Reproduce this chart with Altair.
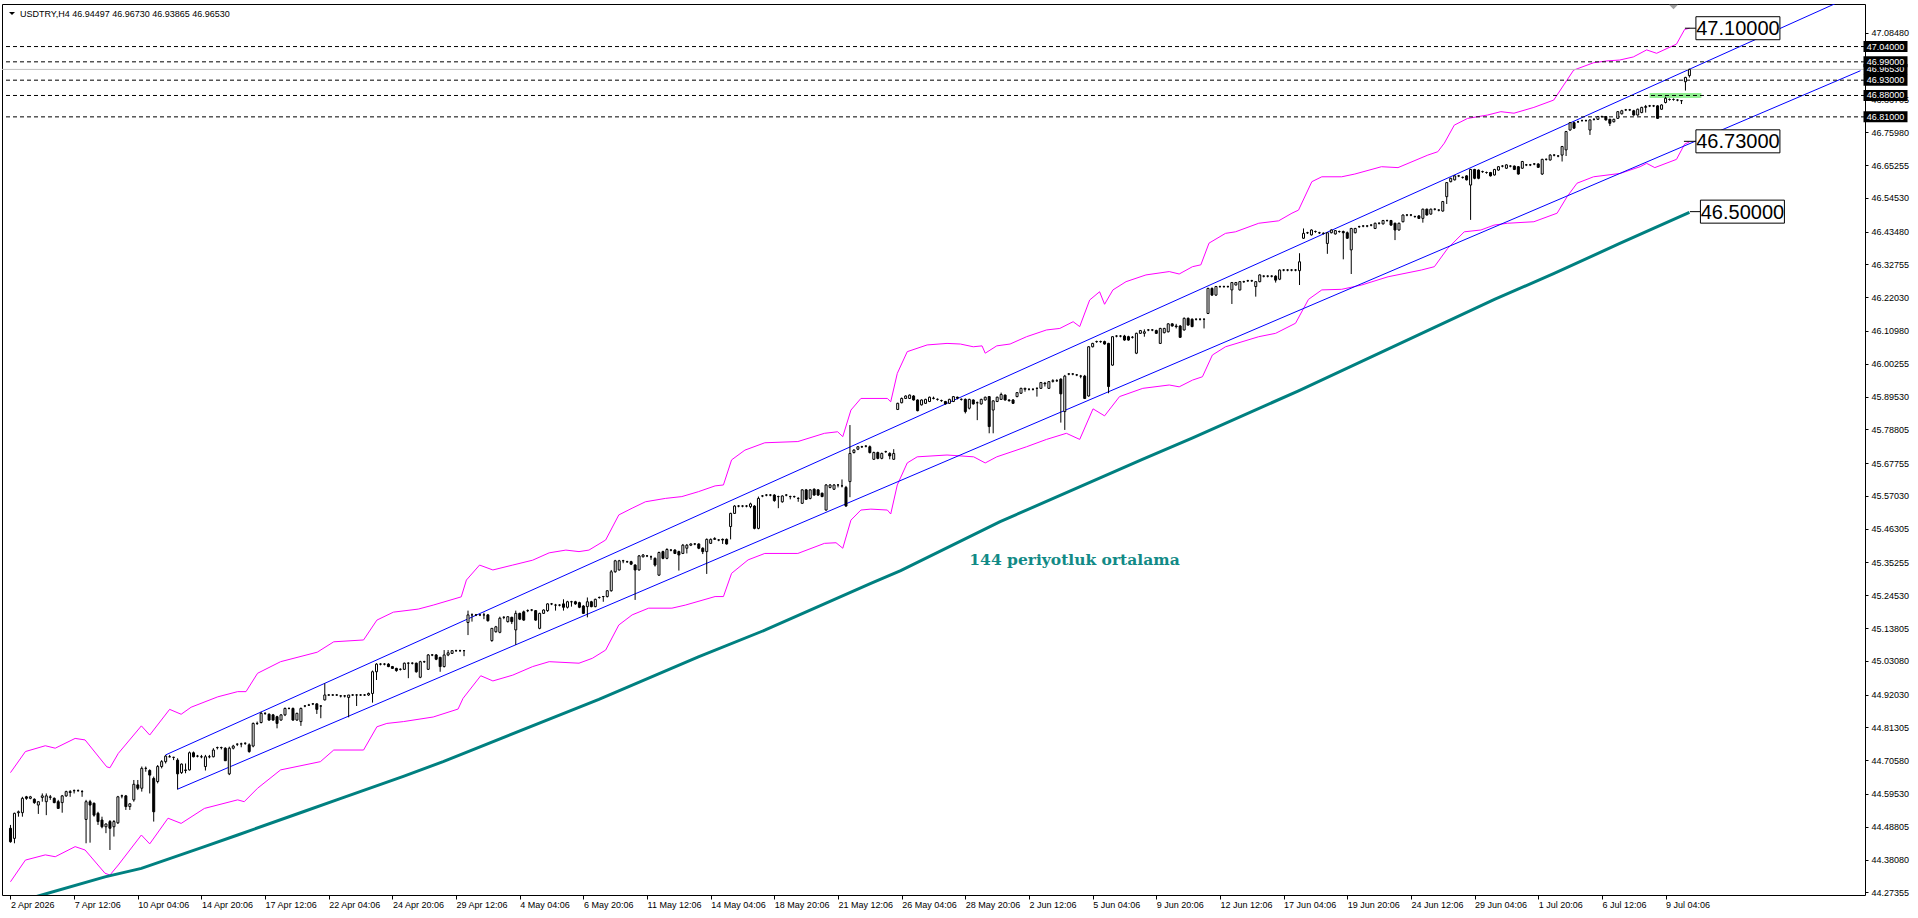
import altair as alt
import pandas as pd

# ---------------- data ----------------
title_text = "USDTRY,H4  46.94497 46.96730 46.93865 46.96530"

open_ = [
    44.483, 44.450, 44.534, 44.534, 44.586, 44.581, 44.578, 44.559, 44.584, 44.570,
    44.584, 44.581, 44.570, 44.567, 44.589, 44.600, 44.606, 44.606, 44.603, 44.512,
    44.570, 44.565, 44.532, 44.510, 44.488, 44.505, 44.488, 44.501, 44.589, 44.589,
    44.554, 44.576, 44.625, 44.614, 44.679, 44.672, 44.646, 44.636, 44.685, 44.701,
    44.717, 44.715, 44.706, 44.665, 44.672, 44.674, 44.730, 44.719, 44.717, 44.685,
    44.717, 44.717, 44.747, 44.747, 44.745, 44.661, 44.745, 44.758, 44.759, 44.761,
    44.756, 44.752, 44.826, 44.829, 44.859, 44.856, 44.854, 44.848, 44.837, 44.854,
    44.875, 44.875, 44.837, 44.832, 44.883, 44.886, 44.890, 44.890, 44.883, 44.903,
    44.919, 44.919, 44.919, 44.916, 44.916, 44.911, 44.919, 44.919, 44.919, 44.919,
    44.919, 44.924, 44.995, 45.020, 45.020, 45.020, 45.012, 45.006, 45.003, 45.003,
    45.023, 45.023, 45.023, 44.977, 45.028, 45.003, 45.050, 45.050, 45.042, 45.012,
    45.050, 45.055, 45.064, 45.064, 45.064, 45.156, 45.181, 45.181, 45.181, 45.181,
    45.181, 45.097, 45.126, 45.124, 45.173, 45.159, 45.173, 45.132, 45.186, 45.191,
    45.195, 45.197, 45.195, 45.137, 45.186, 45.195, 45.217, 45.213, 45.213, 45.217,
    45.206, 45.224, 45.224, 45.221, 45.210, 45.208, 45.224, 45.208, 45.238, 45.241,
    45.241, 45.260, 45.322, 45.328, 45.358, 45.355, 45.355, 45.344, 45.328, 45.371,
    45.374, 45.371, 45.366, 45.311, 45.388, 45.366, 45.393, 45.393, 45.388, 45.382,
    45.399, 45.409, 45.413, 45.413, 45.399, 45.388, 45.415, 45.428, 45.426, 45.428,
    45.428, 45.470, 45.513, 45.537, 45.537, 45.537, 45.535, 45.537, 45.464, 45.570,
    45.573, 45.573, 45.573, 45.568, 45.551, 45.573, 45.568, 45.568, 45.562, 45.546,
    45.590, 45.562, 45.592, 45.590, 45.579, 45.524, 45.598, 45.592, 45.606, 45.603,
    45.598, 45.617, 45.712, 45.723, 45.731, 45.733, 45.731, 45.690, 45.712, 45.693,
    45.715, 45.709, 45.690, 45.853, 45.875, 45.889, 45.889, 45.897, 45.884, 45.868,
    45.873, 45.879, 45.889, 45.886, 45.882, 45.879, 45.873, 45.879, 45.893, 45.886,
    45.886, 45.857, 45.884, 45.875, 45.871, 45.884, 45.895, 45.851, 45.879, 45.886,
    45.900, 45.884, 45.884, 45.895, 45.906, 45.919, 45.919, 45.919, 45.922, 45.922,
    45.939, 45.922, 45.945, 45.947, 45.952, 45.846, 45.969, 45.969, 45.966, 45.962,
    45.962, 45.897, 46.058, 46.075, 46.075, 46.075, 46.069, 45.998, 46.093, 46.093,
    46.093, 46.091, 46.089, 46.037, 46.102, 46.102, 46.113, 46.113, 46.111, 46.069,
    46.104, 46.107, 46.133, 46.126, 46.126, 46.113, 46.151, 46.148, 46.148, 46.148,
    46.148, 46.167, 46.249, 46.227, 46.255, 46.255, 46.255, 46.244, 46.260, 46.244,
    46.271, 46.274, 46.274, 46.255, 46.271, 46.289, 46.289, 46.289, 46.289, 46.279,
    46.309, 46.309, 46.309, 46.309, 46.307, 46.413, 46.431, 46.424, 46.435, 46.431,
    46.429, 46.396, 46.431, 46.427, 46.435, 46.435, 46.431, 46.375, 46.431, 46.451,
    46.453, 46.453, 46.456, 46.445, 46.462, 46.460, 46.471, 46.471, 46.462, 46.440,
    46.467, 46.489, 46.489, 46.484, 46.486, 46.478, 46.508, 46.492, 46.508, 46.505,
    46.502, 46.549, 46.598, 46.604, 46.617, 46.612, 46.617, 46.587, 46.638, 46.636,
    46.631, 46.628, 46.628, 46.620, 46.636, 46.649, 46.642, 46.649, 46.649, 46.647,
    46.642, 46.653, 46.653, 46.656, 46.656, 46.623, 46.671, 46.669, 46.685, 46.682,
    46.685, 46.702, 46.767, 46.791, 46.794, 46.798, 46.798, 46.767, 46.802, 46.802,
    46.811, 46.811, 46.802, 46.794, 46.805, 46.820, 46.833, 46.833, 46.830, 46.816,
    46.824, 46.841, 46.846, 46.846, 46.846, 46.835, 46.857, 46.867, 46.867, 46.865,
    46.863, 46.925, 46.94497,
]

high_ = [
    44.494, 44.534, 44.541, 44.586, 44.589, 44.589, 44.581, 44.570, 44.597, 44.597,
    44.592, 44.584, 44.576, 44.592, 44.606, 44.608, 44.610, 44.610, 44.608, 44.576,
    44.576, 44.567, 44.537, 44.521, 44.499, 44.510, 44.510, 44.589, 44.593, 44.592,
    44.565, 44.641, 44.641, 44.685, 44.685, 44.676, 44.652, 44.690, 44.706, 44.723,
    44.723, 44.717, 44.712, 44.695, 44.695, 44.734, 44.734, 44.723, 44.723, 44.723,
    44.723, 44.745, 44.750, 44.750, 44.748, 44.750, 44.756, 44.761, 44.763, 44.764,
    44.761, 44.829, 44.832, 44.864, 44.862, 44.859, 44.857, 44.851, 44.856, 44.878,
    44.878, 44.878, 44.861, 44.878, 44.886, 44.890, 44.892, 44.892, 44.886, 44.957,
    44.922, 44.922, 44.922, 44.919, 44.919, 44.919, 44.922, 44.922, 44.922, 44.922,
    44.927, 44.999, 45.023, 45.023, 45.023, 45.023, 45.014, 45.008, 45.006, 45.025,
    45.026, 45.026, 45.025, 45.031, 45.031, 45.053, 45.053, 45.053, 45.044, 45.066,
    45.066, 45.066, 45.067, 45.067, 45.066, 45.195, 45.186, 45.184, 45.184, 45.188,
    45.184, 45.137, 45.145, 45.175, 45.177, 45.177, 45.175, 45.195, 45.188, 45.195,
    45.199, 45.200, 45.197, 45.188, 45.199, 45.219, 45.220, 45.217, 45.216, 45.232,
    45.227, 45.227, 45.227, 45.224, 45.213, 45.238, 45.227, 45.234, 45.241, 45.243,
    45.262, 45.328, 45.361, 45.361, 45.361, 45.358, 45.358, 45.347, 45.377, 45.380,
    45.377, 45.375, 45.369, 45.388, 45.391, 45.399, 45.396, 45.396, 45.391, 45.413,
    45.413, 45.415, 45.416, 45.415, 45.402, 45.431, 45.431, 45.435, 45.429, 45.431,
    45.431, 45.515, 45.540, 45.540, 45.540, 45.540, 45.548, 45.540, 45.568, 45.573,
    45.576, 45.576, 45.576, 45.571, 45.572, 45.576, 45.571, 45.571, 45.566, 45.592,
    45.593, 45.592, 45.595, 45.592, 45.581, 45.609, 45.609, 45.609, 45.609, 45.624,
    45.603, 45.802, 45.723, 45.733, 45.734, 45.736, 45.735, 45.715, 45.715, 45.712,
    45.718, 45.713, 45.723, 45.875, 45.892, 45.899, 45.902, 45.900, 45.886, 45.886,
    45.888, 45.895, 45.895, 45.889, 45.885, 45.881, 45.888, 45.897, 45.895, 45.889,
    45.889, 45.888, 45.886, 45.879, 45.888, 45.895, 45.897, 45.883, 45.895, 45.908,
    45.902, 45.886, 45.887, 45.910, 45.924, 45.924, 45.922, 45.922, 45.925, 45.943,
    45.943, 45.946, 45.952, 45.952, 45.955, 45.966, 45.972, 45.972, 45.969, 45.966,
    45.966, 46.060, 46.071, 46.078, 46.078, 46.078, 46.071, 46.093, 46.096, 46.096,
    46.097, 46.094, 46.093, 46.104, 46.113, 46.115, 46.116, 46.116, 46.114, 46.120,
    46.120, 46.135, 46.135, 46.133, 46.129, 46.154, 46.154, 46.151, 46.151, 46.151,
    46.151, 46.251, 46.252, 46.257, 46.258, 46.258, 46.258, 46.270, 46.270, 46.273,
    46.274, 46.277, 46.277, 46.273, 46.295, 46.292, 46.292, 46.292, 46.292, 46.311,
    46.312, 46.312, 46.312, 46.312, 46.364, 46.445, 46.434, 46.442, 46.438, 46.434,
    46.432, 46.433, 46.442, 46.440, 46.438, 46.438, 46.435, 46.447, 46.447, 46.454,
    46.456, 46.456, 46.459, 46.464, 46.465, 46.473, 46.474, 46.473, 46.464, 46.464,
    46.491, 46.492, 46.492, 46.487, 46.489, 46.510, 46.510, 46.510, 46.511, 46.508,
    46.535, 46.597, 46.611, 46.619, 46.620, 46.615, 46.619, 46.640, 46.640, 46.638,
    46.634, 46.631, 46.630, 46.640, 46.649, 46.652, 46.655, 46.652, 46.651, 46.649,
    46.666, 46.656, 46.656, 46.659, 46.658, 46.673, 46.674, 46.688, 46.688, 46.685,
    46.715, 46.764, 46.793, 46.794, 46.797, 46.801, 46.801, 46.802, 46.805, 46.813,
    46.814, 46.813, 46.804, 46.804, 46.829, 46.833, 46.836, 46.836, 46.833, 46.837,
    46.843, 46.849, 46.849, 46.849, 46.848, 46.851, 46.876, 46.870, 46.870, 46.868,
    46.865, 46.941, 46.96730,
]

low_ = [
    44.436, 44.434, 44.521, 44.521, 44.576, 44.578, 44.563, 44.530, 44.570, 44.526,
    44.576, 44.565, 44.547, 44.534, 44.586, 44.586, 44.597, 44.603, 44.586, 44.434,
    44.436, 44.521, 44.494, 44.483, 44.467, 44.412, 44.456, 44.497, 44.581, 44.543,
    44.543, 44.570, 44.608, 44.603, 44.668, 44.597, 44.505, 44.630, 44.679, 44.695,
    44.715, 44.706, 44.610, 44.661, 44.663, 44.672, 44.715, 44.715, 44.712, 44.672,
    44.712, 44.715, 44.741, 44.741, 44.704, 44.657, 44.741, 44.752, 44.748, 44.756,
    44.730, 44.748, 44.821, 44.826, 44.854, 44.835, 44.835, 44.810, 44.835, 44.850,
    44.872, 44.835, 44.835, 44.818, 44.879, 44.883, 44.886, 44.857, 44.843, 44.901,
    44.916, 44.916, 44.916, 44.911, 44.911, 44.846, 44.916, 44.883, 44.916, 44.916,
    44.916, 44.894, 44.968, 45.016, 45.016, 45.010, 45.004, 44.995, 44.999, 45.001,
    44.974, 45.019, 44.992, 44.974, 45.024, 45.001, 45.046, 45.033, 44.995, 45.009,
    45.046, 45.053, 45.060, 45.060, 45.046, 45.115, 45.159, 45.177, 45.177, 45.167,
    45.159, 45.093, 45.123, 45.121, 45.167, 45.156, 45.151, 45.083, 45.164, 45.162,
    45.190, 45.193, 45.162, 45.134, 45.184, 45.191, 45.213, 45.195, 45.209, 45.195,
    45.202, 45.208, 45.214, 45.203, 45.184, 45.173, 45.206, 45.206, 45.234, 45.224,
    45.238, 45.257, 45.319, 45.326, 45.350, 45.351, 45.344, 45.230, 45.326, 45.369,
    45.370, 45.361, 45.339, 45.309, 45.363, 45.363, 45.389, 45.380, 45.326, 45.380,
    45.382, 45.406, 45.409, 45.396, 45.380, 45.315, 45.413, 45.426, 45.422, 45.413,
    45.411, 45.428, 45.511, 45.533, 45.533, 45.533, 45.530, 45.461, 45.461, 45.566,
    45.569, 45.569, 45.551, 45.530, 45.548, 45.569, 45.559, 45.564, 45.551, 45.544,
    45.557, 45.559, 45.571, 45.570, 45.566, 45.522, 45.595, 45.590, 45.598, 45.598,
    45.535, 45.566, 45.709, 45.720, 45.727, 45.729, 45.709, 45.688, 45.690, 45.690,
    45.711, 45.690, 45.688, 45.851, 45.873, 45.887, 45.887, 45.882, 45.847, 45.866,
    45.871, 45.877, 45.886, 45.882, 45.878, 45.869, 45.871, 45.877, 45.886, 45.882,
    45.840, 45.853, 45.869, 45.818, 45.869, 45.882, 45.775, 45.775, 45.877, 45.884,
    45.882, 45.878, 45.871, 45.893, 45.904, 45.911, 45.915, 45.915, 45.895, 45.920,
    45.928, 45.920, 45.941, 45.943, 45.810, 45.786, 45.965, 45.965, 45.962, 45.955,
    45.887, 45.895, 46.056, 46.071, 46.071, 46.065, 45.906, 45.996, 46.089, 46.089,
    46.078, 46.078, 46.085, 46.034, 46.100, 46.091, 46.109, 46.109, 46.100, 46.067,
    46.102, 46.105, 46.124, 46.118, 46.087, 46.111, 46.127, 46.122, 46.144, 46.144,
    46.118, 46.165, 46.225, 46.225, 46.251, 46.251, 46.251, 46.198, 46.259, 46.242,
    46.267, 46.270, 46.270, 46.222, 46.269, 46.285, 46.285, 46.285, 46.268, 46.276,
    46.305, 46.305, 46.305, 46.305, 46.260, 46.411, 46.427, 46.422, 46.431, 46.427,
    46.425, 46.362, 46.429, 46.425, 46.431, 46.344, 46.411, 46.296, 46.429, 46.447,
    46.449, 46.449, 46.452, 46.443, 46.458, 46.458, 46.467, 46.454, 46.407, 46.438,
    46.465, 46.485, 46.485, 46.480, 46.476, 46.464, 46.487, 46.490, 46.504, 46.501,
    46.500, 46.525, 46.596, 46.602, 46.613, 46.608, 46.602, 46.473, 46.606, 46.606,
    46.627, 46.624, 46.615, 46.618, 46.634, 46.645, 46.640, 46.645, 46.636, 46.621,
    46.640, 46.649, 46.649, 46.652, 46.643, 46.620, 46.667, 46.667, 46.681, 46.678,
    46.664, 46.682, 46.765, 46.771, 46.790, 46.794, 46.794, 46.751, 46.798, 46.800,
    46.807, 46.798, 46.780, 46.792, 46.803, 46.818, 46.829, 46.829, 46.814, 46.814,
    46.822, 46.824, 46.842, 46.842, 46.803, 46.833, 46.854, 46.863, 46.863, 46.861,
    46.852, 46.896, 46.93865,
]

close_ = [
    44.439, 44.532, 44.537, 44.581, 44.581, 44.586, 44.567, 44.570, 44.589, 44.589,
    44.586, 44.567, 44.548, 44.589, 44.603, 44.603, 44.606, 44.606, 44.603, 44.570,
    44.559, 44.526, 44.505, 44.488, 44.497, 44.483, 44.505, 44.586, 44.589, 44.554,
    44.563, 44.627, 44.614, 44.679, 44.679, 44.657, 44.537, 44.685, 44.701, 44.719,
    44.717, 44.715, 44.661, 44.693, 44.674, 44.730, 44.717, 44.719, 44.717, 44.717,
    44.717, 44.739, 44.747, 44.747, 44.704, 44.745, 44.752, 44.758, 44.759, 44.761,
    44.734, 44.826, 44.826, 44.859, 44.859, 44.837, 44.837, 44.826, 44.854, 44.875,
    44.875, 44.837, 44.859, 44.875, 44.883, 44.886, 44.890, 44.872, 44.883, 44.919,
    44.919, 44.919, 44.919, 44.916, 44.916, 44.919, 44.919, 44.919, 44.919, 44.919,
    44.924, 44.995, 45.020, 45.020, 45.020, 45.012, 45.006, 44.999, 45.003, 45.023,
    45.023, 45.023, 44.995, 45.028, 45.028, 45.050, 45.050, 45.036, 45.012, 45.050,
    45.057, 45.064, 45.064, 45.064, 45.064, 45.181, 45.181, 45.181, 45.181, 45.181,
    45.162, 45.137, 45.142, 45.170, 45.173, 45.175, 45.159, 45.186, 45.167, 45.164,
    45.195, 45.197, 45.164, 45.186, 45.197, 45.217, 45.217, 45.213, 45.213, 45.206,
    45.224, 45.224, 45.217, 45.206, 45.186, 45.224, 45.208, 45.232, 45.238, 45.241,
    45.260, 45.322, 45.358, 45.358, 45.358, 45.355, 45.347, 45.328, 45.374, 45.377,
    45.374, 45.371, 45.344, 45.385, 45.366, 45.395, 45.393, 45.382, 45.377, 45.409,
    45.409, 45.413, 45.413, 45.399, 45.388, 45.428, 45.428, 45.431, 45.426, 45.426,
    45.413, 45.513, 45.537, 45.537, 45.537, 45.537, 45.544, 45.464, 45.562, 45.570,
    45.573, 45.573, 45.555, 45.568, 45.570, 45.573, 45.568, 45.568, 45.562, 45.590,
    45.559, 45.590, 45.573, 45.573, 45.568, 45.606, 45.606, 45.606, 45.606, 45.603,
    45.537, 45.709, 45.720, 45.731, 45.731, 45.733, 45.712, 45.712, 45.693, 45.709,
    45.715, 45.701, 45.709, 45.873, 45.889, 45.897, 45.900, 45.884, 45.849, 45.884,
    45.886, 45.893, 45.890, 45.886, 45.882, 45.871, 45.886, 45.895, 45.890, 45.886,
    45.846, 45.886, 45.871, 45.875, 45.886, 45.893, 45.797, 45.881, 45.893, 45.902,
    45.884, 45.882, 45.873, 45.908, 45.922, 45.922, 45.919, 45.919, 45.922, 45.941,
    45.937, 45.944, 45.947, 45.947, 45.904, 45.962, 45.969, 45.969, 45.966, 45.962,
    45.889, 46.058, 46.069, 46.075, 46.075, 46.067, 45.928, 46.091, 46.093, 46.093,
    46.080, 46.080, 46.089, 46.102, 46.111, 46.107, 46.113, 46.113, 46.102, 46.118,
    46.118, 46.133, 46.126, 46.124, 46.089, 46.151, 46.129, 46.124, 46.148, 46.148,
    46.148, 46.249, 46.227, 46.255, 46.255, 46.255, 46.255, 46.268, 46.268, 46.271,
    46.271, 46.274, 46.274, 46.271, 46.293, 46.289, 46.289, 46.289, 46.276, 46.309,
    46.309, 46.309, 46.309, 46.309, 46.336, 46.429, 46.431, 46.440, 46.435, 46.431,
    46.429, 46.431, 46.440, 46.438, 46.435, 46.431, 46.413, 46.445, 46.445, 46.451,
    46.453, 46.453, 46.456, 46.462, 46.462, 46.471, 46.471, 46.456, 46.440, 46.462,
    46.489, 46.489, 46.489, 46.484, 46.478, 46.508, 46.489, 46.508, 46.508, 46.505,
    46.533, 46.595, 46.609, 46.617, 46.617, 46.612, 46.604, 46.638, 46.609, 46.609,
    46.631, 46.628, 46.617, 46.638, 46.647, 46.649, 46.653, 46.649, 46.638, 46.623,
    46.664, 46.653, 46.653, 46.656, 46.645, 46.671, 46.671, 46.685, 46.685, 46.682,
    46.713, 46.762, 46.791, 46.773, 46.794, 46.798, 46.798, 46.800, 46.802, 46.811,
    46.811, 46.800, 46.789, 46.802, 46.827, 46.830, 46.833, 46.833, 46.816, 46.835,
    46.841, 46.844, 46.846, 46.846, 46.805, 46.849, 46.871, 46.867, 46.867, 46.865,
    46.863, 46.939, 46.96530,
]

x_tick_bars = [0, 16, 32, 48, 64, 80, 96, 112, 128, 144, 160, 176, 192, 208,
               224, 240, 256, 272, 288, 304, 320, 336, 352, 368, 384, 400, 416]
x_tick_labels = ["2 Apr 2026", "7 Apr 12:06", "10 Apr 04:06", "14 Apr 20:06",
                 "17 Apr 12:06", "22 Apr 04:06", "24 Apr 20:06", "29 Apr 12:06",
                 "4 May 04:06", "6 May 20:06", "11 May 12:06", "14 May 04:06",
                 "18 May 20:06", "21 May 12:06", "26 May 04:06", "28 May 20:06",
                 "2 Jun 12:06", "5 Jun 04:06", "9 Jun 20:06", "12 Jun 12:06",
                 "17 Jun 04:06", "19 Jun 20:06", "24 Jun 12:06", "29 Jun 04:06",
                 "1 Jul 20:06", "6 Jul 12:06", "9 Jul 04:06"]

y_tick_values = [47.08480, 46.86705, 46.75980, 46.65255, 46.54530, 46.43480,
                 46.32755, 46.22030, 46.10980, 46.00255, 45.89530, 45.78805,
                 45.67755, 45.57030, 45.46305, 45.35255, 45.24530, 45.13805,
                 45.03080, 44.92030, 44.81305, 44.70580, 44.59530, 44.48805,
                 44.38080, 44.27355]

# 144-period moving average (bar, value)
ma144 = [(0, 44.236), (8.75, 44.268), (23.75, 44.324), (32.9, 44.352), (48.75, 44.423),
         (57.1, 44.461), (73.75, 44.538), (82, 44.576), (98.75, 44.653), (108.75, 44.701),
         (147.9, 44.905), (172.9, 45.044), (189.6, 45.131), (216.25, 45.284),
         (223.75, 45.326), (248.75, 45.486), (284.5, 45.690), (297, 45.759),
         (323.75, 45.914), (373, 46.213), (388, 46.298), (404.5, 46.396), (422, 46.498)]

# Envelope bands (bar, value)
env_upper = [
    (0, 44.665), (3.75, 44.734), (8.75, 44.753), (11.25, 44.745), (16.25, 44.777),
    (18.75, 44.772), (24.2, 44.684), (25, 44.681), (27.1, 44.728), (32.9, 44.818),
    (35, 44.788), (40, 44.872), (42.9, 44.856), (45.4, 44.879), (52.1, 44.913),
    (57.1, 44.930), (59.2, 44.930), (62.1, 44.990), (67.9, 45.028), (77.1, 45.059),
    (81.25, 45.093), (88.75, 45.099), (92.1, 45.164), (96.25, 45.190), (102.5, 45.200),
    (106.25, 45.213), (113.3, 45.240), (114.6, 45.295), (117.9, 45.344), (121.25, 45.328),
    (126.25, 45.344), (131.25, 45.360), (135.4, 45.384), (139.6, 45.393), (142.9, 45.388),
    (145.4, 45.393), (149.6, 45.426), (152.9, 45.508), (156.25, 45.530), (159.6, 45.551),
    (164.6, 45.562), (168.75, 45.568), (172.9, 45.584), (177.1, 45.603), (179.2, 45.606),
    (181.25, 45.688), (184.6, 45.720), (189.6, 45.744), (197.9, 45.748), (204.6, 45.775),
    (207.9, 45.780), (209.2, 45.764), (211.25, 45.851), (213.75, 45.889), (220.4, 45.889),
    (221.25, 45.878), (222.9, 45.971), (225.4, 46.042), (230.4, 46.064), (235.4, 46.069),
    (238.75, 46.067), (242, 46.058), (244.2, 46.061), (245, 46.037), (247.9, 46.061),
    (251.25, 46.067), (255.4, 46.091), (260.4, 46.113), (263.75, 46.118), (267.1, 46.140),
    (268.75, 46.124), (271.25, 46.211), (273.75, 46.238), (275, 46.197), (277.1, 46.244),
    (280.4, 46.271), (285.4, 46.293), (291.25, 46.304), (293.75, 46.296), (297.1, 46.320),
    (299.2, 46.326), (301.25, 46.397), (305.4, 46.429), (307.9, 46.434), (313.75, 46.462),
    (318.75, 46.470), (322.1, 46.495), (323.75, 46.505), (327.1, 46.598), (329.6, 46.614),
    (334.6, 46.614), (337.9, 46.623), (344.6, 46.647), (348.75, 46.644), (356.25, 46.685),
    (358.75, 46.696), (360.4, 46.724), (362.9, 46.783), (366.25, 46.805), (371.25, 46.816),
    (374.6, 46.827), (377.9, 46.822), (382.9, 46.841), (387.9, 46.865), (390.4, 46.914),
    (392.9, 46.963), (397.9, 46.987), (401.25, 46.993), (404.5, 46.996), (407.9, 47.006),
    (411.25, 47.029), (413.75, 47.018), (418.75, 47.048), (420.8, 47.096), (422, 47.100),
]
env_lower = [
    (0, 44.308), (3.75, 44.379), (8.75, 44.396), (11.25, 44.390), (16.25, 44.423),
    (18.75, 44.412), (23.75, 44.336), (25, 44.330), (27.1, 44.363), (32.9, 44.461),
    (35, 44.432), (39.6, 44.516), (42.9, 44.499), (48.75, 44.548), (57.1, 44.576),
    (58.75, 44.570), (62.1, 44.614), (67.9, 44.674), (77.9, 44.701), (81.25, 44.739),
    (88.75, 44.739), (92.1, 44.815), (94.6, 44.826), (98.75, 44.832), (106.25, 44.847),
    (112.5, 44.873), (113.75, 44.908), (118.2, 44.982), (121.25, 44.965), (126.25, 44.984),
    (131.25, 45.012), (135.4, 45.028), (142.9, 45.023), (146.25, 45.039), (149.6, 45.066),
    (152.9, 45.148), (156.25, 45.181), (160.4, 45.203), (166.25, 45.203), (169.6, 45.213),
    (177.1, 45.241), (179.2, 45.241), (181.25, 45.317), (185.4, 45.361), (189.6, 45.382),
    (197.9, 45.382), (204.6, 45.415), (207.5, 45.417), (209.2, 45.399), (211.25, 45.491),
    (213.75, 45.524), (216.25, 45.527), (220.4, 45.524), (221.25, 45.511), (222.9, 45.606),
    (225.4, 45.678), (227.9, 45.698), (235.4, 45.704), (242.1, 45.698), (245, 45.678),
    (247.9, 45.698), (255.4, 45.731), (260.4, 45.755), (265.4, 45.775), (268.75, 45.755),
    (272.1, 45.855), (275, 45.832), (278.75, 45.895), (284.6, 45.922), (291.25, 45.933),
    (293.75, 45.927), (297.1, 45.949), (299.6, 45.960), (302.1, 46.031), (305.4, 46.058),
    (313.75, 46.091), (318, 46.102), (323, 46.135), (326.25, 46.213), (329.6, 46.244),
    (334.6, 46.246), (339.6, 46.260), (346.25, 46.287), (354.6, 46.309), (357.9, 46.320),
    (361.25, 46.380), (365.4, 46.434), (369.6, 46.440), (372.9, 46.456), (376.25, 46.462),
    (382.9, 46.467), (388.75, 46.495), (391.25, 46.549), (393.75, 46.593), (397.9, 46.614),
    (404.6, 46.625), (409.6, 46.647), (411.25, 46.658), (413.3, 46.644), (418.75, 46.671),
    (420.8, 46.721), (422, 46.728),
]

# Hand-drawn trend channel lines (bar, price)
channel_upper = [(39, 44.723), (462, 47.200)]
channel_lower = [(42, 44.611), (465, 46.961)]

# Horizontal levels and their price-scale labels
level_prices = [47.04, 46.99, 46.93, 46.88, 46.81]
level_labels = ["47.04000", "46.99000", "46.93000", "46.88000", "46.81000"]
bid_price = 46.9653
bid_label = "46.96530"

# Green zone rectangle (bar range, price range)
zone_bars = [412, 425]
zone_prices = [46.872, 46.888]

# Callout boxes at the end of the indicator lines
callout_labels = ["47.10000", "46.73000", "46.50000"]
callout_prices = [47.10, 46.73, 46.50]
callout_bar = 422

ma_caption = "144 periyotluk ortalama"
ma_caption_bar = 241
ma_caption_price = 45.344

shift_marker_bar = 418

# ---------------- layout / style ----------------
W, H = 1863, 891
X_DOMAIN = [-0.875, 464.875]
Y_DOMAIN = [44.2648, 47.1792]
FONT = "Liberation Sans"
callout_layout = [(-4.5, 6.5, 48.5), (-5.5, 6.5, 48.5), (0.5, 11.5, 53.0)]
BIG_BOX = "M-1,-0.274H1V0.274H-1Z"
SMALL_BOX = "M-1,-0.25H1V0.25H-1Z"
FLAT_TRI = "M-1,-0.5L1,-0.5L0,0.5Z"

xs = alt.Scale(domain=X_DOMAIN, nice=False, zero=False)
ys = alt.Scale(domain=Y_DOMAIN, nice=False, zero=False)

labels_js = "[" + ",".join("'" + s + "'" for s in x_tick_labels) + "]"
bars_js = "[" + ",".join(str(b) for b in x_tick_bars) + "]"

x_axis = alt.Axis(values=x_tick_bars, labelExpr=labels_js + "[indexof(" + bars_js + ", datum.value)]",
                  orient="bottom", tickSize=4, tickColor="black", tickWidth=1,
                  labelAlign="left", labelBaseline="top", labelPadding=1,
                  labelFont=FONT, labelFontSize=9, labelColor="black",
                  labelFlush=False, labelOverlap=False, labelBound=False,
                  domain=False, grid=False, title="", zindex=0)
y_axis = alt.Axis(values=y_tick_values, format=".5f", orient="right",
                  tickSize=3, tickColor="black", tickWidth=1,
                  labelAlign="left", labelBaseline="middle", labelPadding=3,
                  labelFont=FONT, labelFontSize=9, labelColor="black",
                  labelFlush=False, labelOverlap=False, labelBound=False,
                  domain=False, grid=False, title="", zindex=0)

candles = pd.DataFrame({"bar": list(range(len(close_))), "open": open_,
                        "high": high_, "low": low_, "close": close_})


def X(field="bar:Q"):
    return alt.X(field, scale=xs, axis=x_axis)


def Y(field="price:Q"):
    return alt.Y(field, scale=ys, axis=y_axis)


def pairs_df(pairs, name=None):
    df = pd.DataFrame(pairs, columns=["bar", "price"])
    if name is not None:
        df["line"] = name
    return df


layers = []

# Envelope bands
for band in (env_upper, env_lower):
    layers.append(alt.Chart(pairs_df(band)).mark_line(color="#ff00ff", strokeWidth=1, clip=True)
                  .encode(x=X(), y=Y(), order="bar:Q"))

# 144 MA
layers.append(alt.Chart(pairs_df(ma144)).mark_line(color="#008080", strokeWidth=3, clip=True)
              .encode(x=X(), y=Y(), order="bar:Q"))

# Channel lines
chan = pd.concat([pairs_df(channel_upper, "up"), pairs_df(channel_lower, "lo")])
layers.append(alt.Chart(chan).mark_line(color="#0000ff", strokeWidth=1, clip=True)
              .encode(x=X(), y=Y(), detail="line:N"))

# Green zone
zone_df = pd.DataFrame({"bar": [zone_bars[0]], "bar2": [zone_bars[1]],
                        "price": [zone_prices[0]], "price2": [zone_prices[1]]})
layers.append(alt.Chart(zone_df).mark_rect(color="#90ee90", clip=True)
              .encode(x=X(), x2="bar2:Q", y=Y(), y2="price2:Q"))

# Level lines and bid line
levels_df = pd.DataFrame({"price": level_prices, "label": level_labels})
layers.append(alt.Chart(levels_df).mark_rule(color="black", strokeWidth=1, strokeDash=[4, 3])
              .encode(y=Y()))
bid_df = pd.DataFrame({"price": [bid_price], "label": [bid_label]})
layers.append(alt.Chart(bid_df).mark_rule(color="#c0c0c0", strokeWidth=1).encode(y=Y()))

# Candles: wicks and bodies
layers.append(alt.Chart(candles).mark_rule(color="black", strokeWidth=1, clip=True)
              .encode(x=X("bar:Q"), y=Y("low:Q"), y2="high:Q"))
layers.append(alt.Chart(candles).mark_bar(size=2, stroke="black", strokeWidth=1, clip=True)
              .encode(x=X(), y=Y("open:Q"), y2="close:Q",
                      fill=alt.condition("datum.close >= datum.open",
                                         alt.value("white"), alt.value("black"))))

# Callouts
for lab, price, (l0, l1, bx) in zip(callout_labels, callout_prices, callout_layout):
    cdf = pd.DataFrame({"bar": [callout_bar], "price": [price], "label": [lab]})
    base = alt.Chart(cdf)
    layers.append(base.mark_rule(color="black", strokeWidth=1, xOffset=l0, x2Offset=l1)
                  .encode(x=X(), x2="bar:Q", y=Y()))
    layers.append(base.mark_point(shape=BIG_BOX, size=84 * 84, filled=True, fill="white",
                                  stroke="black", strokeWidth=1, opacity=1, xOffset=bx)
                  .encode(x=X(), y=Y()))
    layers.append(base.mark_text(font=FONT, fontSize=20, color="black", align="center",
                                 baseline="middle", xOffset=bx, dy=1)
                  .encode(x=X(), y=Y(), text="label:N"))

# Price-scale highlighted labels (bid first, then levels on top)
edge = X_DOMAIN[1]
for df in (bid_df, levels_df):
    d = df.copy()
    d["bar"] = edge
    b = alt.Chart(d)
    layers.append(b.mark_point(shape=SMALL_BOX, size=44 * 44, filled=True, fill="black",
                               stroke="black", strokeWidth=0, opacity=1, xOffset=25.5)
                  .encode(x=X(), y=Y()))
    layers.append(b.mark_text(font=FONT, fontSize=9, color="white", align="center",
                              baseline="middle", xOffset=25.5)
                  .encode(x=X(), y=Y(), text="label:N"))

# Caption of the moving average
cap_df = pd.DataFrame({"bar": [ma_caption_bar], "price": [ma_caption_price], "label": [ma_caption]})
layers.append(alt.Chart(cap_df).mark_text(font="DejaVu Serif", fontWeight="bold", fontSize=15.5,
                                          color="#128a86", align="left", baseline="alphabetic")
              .encode(x=X(), y=Y(), text="label:N"))

# Symbol header
hdr = pd.DataFrame({"label": [title_text]})
layers.append(alt.Chart(hdr).mark_point(shape=FLAT_TRI, size=36, filled=True, color="black", opacity=1)
              .encode(x=alt.value(10), y=alt.value(9.5)))
layers.append(alt.Chart(hdr).mark_text(font=FONT, fontSize=9, color="black", align="left",
                                       baseline="middle")
              .encode(x=alt.value(18), y=alt.value(9.5), text="label:N"))

# Chart-shift marker
sm = pd.DataFrame({"bar": [shift_marker_bar]})
layers.append(alt.Chart(sm).mark_point(shape=FLAT_TRI, size=81, filled=True, color="#a0a0a0", opacity=1)
              .encode(x=X(), y=alt.value(3)))

chart = alt.layer(*layers).properties(
    width=W, height=H,
    autosize=alt.AutoSizeParams(type="none"),
    padding={"left": 2, "top": 4, "right": 53, "bottom": 23},
    background="white",
).configure_view(stroke="black", strokeWidth=1)

chart.save("out.html", embed_options={"renderer": "svg", "actions": False})
